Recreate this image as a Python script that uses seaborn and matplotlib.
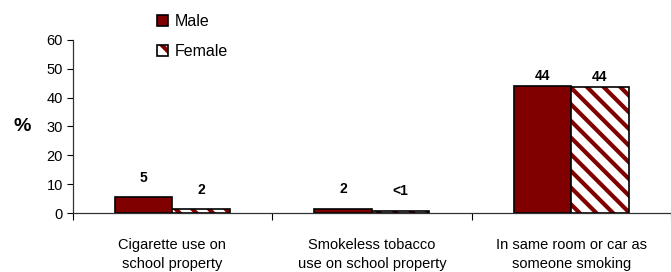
import pandas as pd
import matplotlib.pyplot as plt
import seaborn as sns
from matplotlib.patches import Patch, Rectangle

categories = ["Cigarette use on\nschool property",
              "Smokeless tobacco\nuse on school property",
              "In same room or car as\nsomeone smoking"]
male = [5.4, 1.4, 44.2]
female = [1.3, 0.7, 43.6]
male_labels = ["5", "2", "44"]
female_labels = ["2", "<1", "44"]

dark_red = "#800000"
# label gap above each bar group, in points
label_offsets = [9, 9, 2]

sns.set_style("white")
plt.rcParams['font.family'] = ['Liberation Sans', 'DejaVu Sans']
plt.rcParams['hatch.linewidth'] = 3.0
plt.rcParams['hatch.color'] = dark_red
plt.rcParams['text.color'] = "black"
plt.rcParams['xtick.color'] = "black"
plt.rcParams['ytick.color'] = "black"
plt.rcParams['axes.labelcolor'] = "black"

df = pd.DataFrame({
    "Category": categories * 2,
    "Percent": male + female,
    "Sex": ["Male"] * 3 + ["Female"] * 3
})

fig = plt.figure(figsize=(6.71, 2.72), dpi=100)
ax = fig.add_axes([0.1083, 0.2169, 0.8917, 0.6361])

sns.barplot(
    data=df,
    x="Category",
    y="Percent",
    hue="Sex",
    palette=[dark_red, "white"],
    saturation=1,
    width=0.575,
    edgecolor="black",
    linewidth=1.2,
    legend=False,
    ax=ax
)

# female bars: red stripes, black outline on top
female_patches = ax.patches[3:6]
for p in female_patches:
    p.set_hatch("\\\\")
    p.set_edgecolor(dark_red)
    p.set_linewidth(0)
    ax.add_patch(Rectangle(p.get_xy(), p.get_width(), p.get_height(),
                           fill=False, edgecolor="black", linewidth=1.2))

for p, lab, off in zip(ax.patches[0:3], male_labels, label_offsets):
    ax.annotate(lab, (p.get_x() + p.get_width() / 2, p.get_height()),
                xytext=(0, off), textcoords="offset points",
                ha="center", va="bottom", fontsize=10, fontweight="bold")
for p, lab, off in zip(female_patches, female_labels, label_offsets):
    ax.annotate(lab, (p.get_x() + p.get_width() / 2, p.get_height()),
                xytext=(0, off), textcoords="offset points",
                ha="center", va="bottom", fontsize=10, fontweight="bold")

ax.set_ylim(0, 60)
ax.set_xlim(-0.5, 2.49)
ax.set_yticks(range(0, 61, 10))
ax.tick_params(axis="y", left=True, length=4, width=0.8, labelsize=10.5, pad=3)
ax.set_xticks(range(3))
ax.set_xticks([-0.5, 0.5, 1.5, 2.5], minor=True)
ax.tick_params(axis="x", which="major", length=0, labelsize=10.5, pad=18)
ax.tick_params(axis="x", which="minor", bottom=True, length=5, width=0.8)
for t in ax.get_xticklabels():
    t.set_linespacing(1.45)
ax.set_xlabel("")
ax.set_ylabel("%", rotation=0, fontsize=14, fontweight="bold", va="center")
ax.yaxis.set_label_coords(-0.085, 0.5)

for s in ["top", "right"]:
    ax.spines[s].set_visible(False)
for s in ["left", "bottom"]:
    ax.spines[s].set_color("#333333")
    ax.spines[s].set_linewidth(0.9)

h_male = Patch(facecolor=dark_red, edgecolor="black", linewidth=1.2)
h_fem = (Patch(facecolor="white", edgecolor=dark_red, hatch="\\\\", linewidth=0),
         Patch(fill=False, edgecolor="black", linewidth=1.2))
fig.legend([h_male, h_fem], ["Male", "Female"],
           loc="upper left", bbox_to_anchor=(0.213, 1.0),
           frameon=False, fontsize=11.5, handlelength=0.7, handleheight=0.7,
           handletextpad=0.4, labelspacing=0.9)

plt.savefig("out.png", dpi=100)
